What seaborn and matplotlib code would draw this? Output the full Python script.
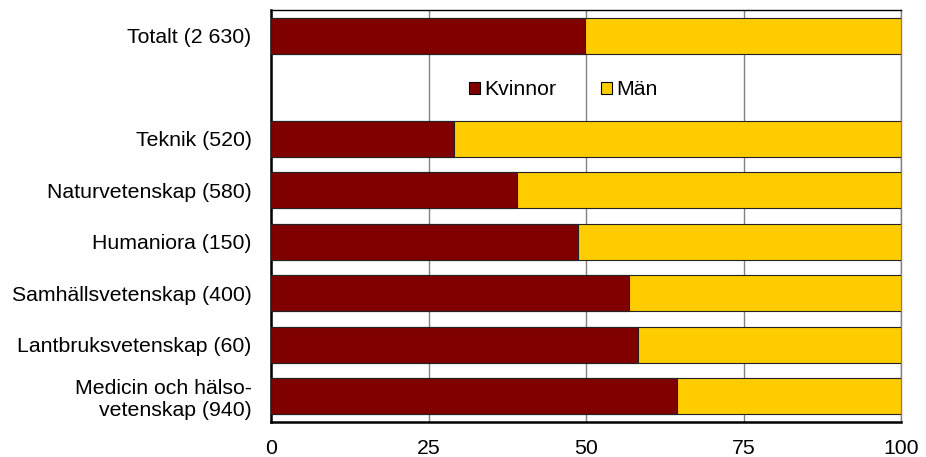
import matplotlib
matplotlib.use("Agg")
import matplotlib.pyplot as plt
import seaborn as sns
import pandas as pd
from matplotlib.patches import Patch

categories = ["Totalt (2 630)", "Teknik (520)", "Naturvetenskap (580)", "Humaniora (150)",
              "Samhällsvetenskap (400)", "Lantbruksvetenskap (60)",
              "Medicin och hälso-\nvetenskap (940)"]
kvinnor = [49.8, 29.1, 39.0, 48.7, 56.8, 58.2, 64.4]
man = [50.2, 70.9, 61.0, 51.3, 43.2, 41.8, 35.6]
xticks = [0, 25, 50, 75, 100]

order = [categories[0], " "] + categories[1:]

df = pd.DataFrame({"kat": categories, "Kvinnor": kvinnor, "Män": man})
df["total"] = df["Kvinnor"] + df["Män"]

sns.set_theme(style="white")
plt.rcParams["font.family"] = ["Liberation Sans", "DejaVu Sans"]

FS = 15.3

fig = plt.figure(figsize=(9.26, 4.57), dpi=100)
ax = fig.add_axes([271/926, 1-422/457, (901-271)/926, (422-10)/457])

red = "#800000"
yellow = "#FFCC00"

sns.barplot(data=df, y="kat", x="total", order=order, color=yellow, orient="h",
            width=0.7, edgecolor="#222222", linewidth=0.8, ax=ax, saturation=1, zorder=3)
sns.barplot(data=df, y="kat", x="Kvinnor", order=order, color=red, orient="h",
            width=0.7, edgecolor="#222222", linewidth=0.8, ax=ax, saturation=1, zorder=4)

ax.set_xlim(0, 100)
ax.set_ylim(7.5, -0.5)
ax.set_xticks(xticks)
ax.set_xticklabels([str(t) for t in xticks], fontsize=FS)
ax.set_xlabel("")
ax.set_ylabel("")
ax.tick_params(axis="y", length=0, pad=14, labelsize=FS)
ax.tick_params(axis="x", length=6, width=1.5, direction="out", pad=6, color="black")
for lab in ax.get_yticklabels():
    lab.set_color("black")
    lab.set_linespacing(1.15)
for lab in ax.get_xticklabels():
    lab.set_color("black")

ax.grid(axis="x", color="#808080", linewidth=1.0, zorder=0)
ax.set_axisbelow(True)
for s in ["left", "bottom"]:
    ax.spines[s].set_color("black")
    ax.spines[s].set_linewidth(1.8)
ax.spines["top"].set_color("black")
ax.spines["top"].set_linewidth(1.0)
ax.spines["right"].set_color("#808080")
ax.spines["right"].set_linewidth(1.0)

handles = [Patch(facecolor=red, edgecolor="black", linewidth=0.8, label="Kvinnor"),
           Patch(facecolor=yellow, edgecolor="black", linewidth=0.8, label="Män")]
leg = ax.legend(handles=handles, loc="center", bbox_to_anchor=(0.464, 0.806), ncol=2,
                frameon=False, fontsize=FS, handlelength=0.52, handleheight=0.52,
                handletextpad=0.2, columnspacing=2.1, borderpad=0, borderaxespad=0)
for t in leg.get_texts():
    t.set_color("black")

fig.savefig("out.png", dpi=100)
